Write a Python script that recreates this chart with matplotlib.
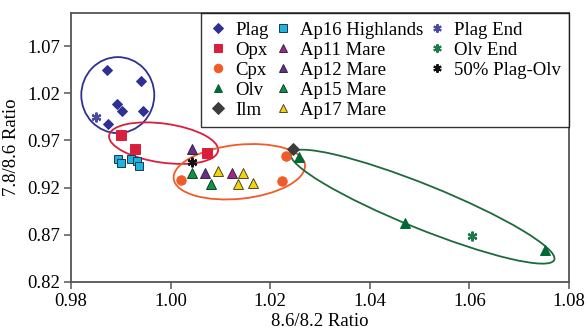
import numpy as np
import matplotlib
matplotlib.use('Agg')
import matplotlib.pyplot as plt
from matplotlib.patches import Ellipse
from matplotlib.lines import Line2D
from matplotlib.transforms import ScaledTranslation

plt.rcParams['font.family'] = ['Liberation Serif', 'DejaVu Serif']

# 数据：8.6/8.2 比值 (x) 和 7.8/8.6 比值 (y)
plag_x = [0.9872, 0.9940, 0.9892, 0.9902, 0.9944, 0.9874]
plag_y = [1.0448, 1.0330, 1.0087, 1.0008, 1.0008, 0.9870]
opx_x = [0.9900, 0.9928, 1.0074]
opx_y = [0.9761, 0.9606, 0.9567]
cpx_x = [1.0020, 1.0223, 1.0232]
cpx_y = [0.9278, 0.9271, 0.9532]
olv_x = [1.0258, 1.0471, 1.0752]
olv_y = [0.9525, 0.8827, 0.8538]
ilm_x = [1.0245]
ilm_y = [0.9613]
ap16_x = [0.9895, 0.9900, 0.9920, 0.9932, 0.9936]
ap16_y = [0.9500, 0.9465, 0.9500, 0.9479, 0.9429]
ap11_x = [1.0123]
ap11_y = [0.9355]
ap12_x = [1.0044, 1.0070]
ap12_y = [0.9606, 0.9355]
ap15_x = [1.0044, 1.0081]
ap15_y = [0.9355, 0.9236]
ap17_x = [1.0096, 1.0145, 1.0136, 1.0165]
ap17_y = [0.9377, 0.9355, 0.9236, 0.9250]
plag_end = (0.9850, 0.9947)
olv_end = (1.0605, 0.8686)
mix_50 = (1.0044, 0.9472)

fig = plt.figure(figsize=(5.88, 3.29), dpi=100)
ax = fig.add_axes([0.1207, 0.1429, 0.847, 0.8176])

star = (6, 2, 0)
series = [
    # x, y, label, marker, face, edge, size
    (plag_x, plag_y, 'Plag', 'D', '#2E3192', '#2E3192', 5.5),
    (opx_x, opx_y, 'Opx', 's', '#DA1F3D', '#DA1F3D', 6.8),
    (cpx_x, cpx_y, 'Cpx', 'o', '#F15A29', '#F15A29', 6.8),
    (olv_x, olv_y, 'Olv', '^', '#006837', '#006837', 7.0),
    (ilm_x, ilm_y, 'Ilm', 'D', '#3C3C3C', '#3C3C3C', 6.5),
    (ap16_x, ap16_y, 'Ap16 Highlands', 's', '#1FB3E0', '#1B3A4A', 6.0),
    (ap11_x, ap11_y, 'Ap11 Mare', '^', '#A4238E', '#3A2A3A', 6.5),
    (ap12_x, ap12_y, 'Ap12 Mare', '^', '#6A2C8E', '#2A2A3A', 6.5),
    (ap15_x, ap15_y, 'Ap15 Mare', '^', '#0B9444', '#1A3A2A', 6.5),
    (ap17_x, ap17_y, 'Ap17 Mare', '^', '#F5D10F', '#4A4A2A', 6.5),
]

handles = []
for x, y, lab, m, fc, ec, ms in series:
    ax.plot(x, y, linestyle='none', marker=m, markersize=ms,
            markerfacecolor=fc, markeredgecolor=ec, markeredgewidth=0.7, zorder=4)
    handles.append(Line2D([], [], linestyle='none', marker=m, markersize=ms * 0.9,
                          markerfacecolor=fc, markeredgecolor=ec, markeredgewidth=0.7, label=lab))

for pt, lab, col in [(plag_end, 'Plag End', '#4A4AA6'),
                     (olv_end, 'Olv End', '#1D7A48'),
                     (mix_50, '50% Plag-Olv', '#111111')]:
    ax.plot([pt[0]], [pt[1]], linestyle='none', marker=star, markersize=7,
            markeredgecolor=col, markeredgewidth=1.6, zorder=5)
    handles.append(Line2D([], [], linestyle='none', marker=star, markersize=6,
                          markeredgecolor=col, markeredgewidth=1.5, label=lab))

# 两个空条目，让第三列只有三项
for _ in range(2):
    handles.append(Line2D([], [], linestyle='none', label=' '))

# 圈出各组（宽高单位为像素，中心在数据坐标）
ellipses = [
    ((0.9894, 1.0180), 73, 76, 0, '#2E3192'),
    ((0.9986, 0.9671), 110, 39, -8, '#DA1F3D'),
    ((1.0138, 0.9368), 132, 54, 6, '#F15A29'),
    ((1.0506, 0.8998), 284, 44, -22, '#1D6B3A'),
]
for (cx, cy), w, h, ang, col in ellipses:
    tr = fig.dpi_scale_trans + ScaledTranslation(cx, cy, ax.transData)
    e = Ellipse((0, 0), w / 100, h / 100, angle=ang, transform=tr,
                fill=False, edgecolor=col, linewidth=1.3, zorder=3)
    ax.add_patch(e)

ax.set_xlim(0.98, 1.08)
ax.set_ylim(0.82, 1.105)
ax.set_xticks(np.arange(0.98, 1.081, 0.02))
ax.set_yticks(np.arange(0.82, 1.071, 0.05))
ax.xaxis.set_major_formatter(matplotlib.ticker.FormatStrFormatter('%.2f'))
ax.yaxis.set_major_formatter(matplotlib.ticker.FormatStrFormatter('%.2f'))
ax.tick_params(direction='out', length=5, width=1.1, color='#555555',
               labelsize=13.5, pad=3)
for s in ax.spines.values():
    s.set_color('#555555')
    s.set_linewidth(1.3)

ax.set_xlabel('8.6/8.2 Ratio', fontsize=13.5, labelpad=2)
ax.set_ylabel('7.8/8.6 Ratio', fontsize=13.5, labelpad=5)

leg = ax.legend(handles=handles, ncol=3, loc='upper right', bbox_to_anchor=(1, 1),
                borderaxespad=0, fontsize=13.5, frameon=True, fancybox=False,
                edgecolor='black', handlelength=1.0, handletextpad=0.4,
                columnspacing=0.25, labelspacing=0.16, borderpad=0.45)
leg.get_frame().set_linewidth(1.0)
leg.set_zorder(6)

fig.savefig('out.png', dpi=100)
